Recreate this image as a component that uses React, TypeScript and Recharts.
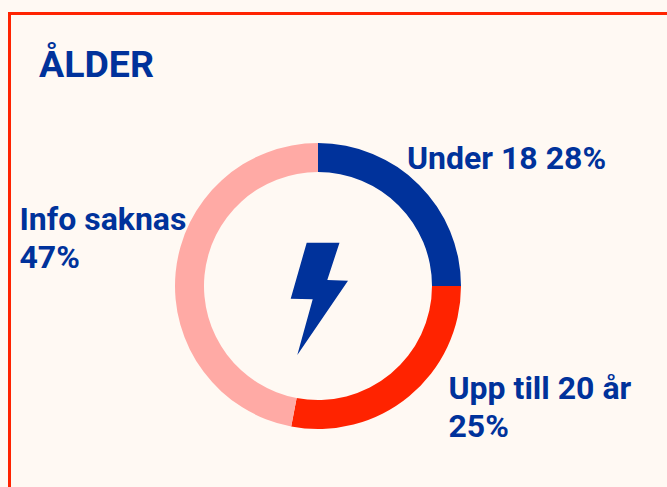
import { Pie, PieChart, Cell } from 'recharts';

const categories = ['Under 18', 'Upp till 20 år', 'Info saknas'];
// arc sizes as drawn in the picture
const values = [25, 28, 47];
const colors = ['#00329b', '#ff2300', '#ffaaa5'];
const title = 'ÅLDER';
const labels = [
  { lines: ['Under 18 28%'], x: 407, y: 169 },
  { lines: ['Upp till 20 år', '25%'], x: 448.5, y: 399 },
  { lines: ['Info saknas', '47%'], x: 19.5, y: 230 },
];

const BLUE = '#00329b';
const BOLT = '306.7,242.7 339.5,242.7 327.3,280 348,280.7 297.3,355 312.7,299.3 290.7,298.7';

const data = categories.map((name, i) => ({ name, value: values[i] }));

export default function App() {
  return (
    <div style={{ position: 'fixed', left: 0, top: 0, width: 667, height: 487, background: '#fff9f3', fontFamily: 'Roboto' }}>
      <div
        style={{
          position: 'absolute',
          left: 8,
          top: 12,
          width: 680,
          height: 500,
          border: '3px solid #ff2300',
          boxSizing: 'border-box',
        }}
      />
      <PieChart
        width={667}
        height={487}
        margin={{ top: 0, right: 0, bottom: 0, left: 0 }}
        style={{ position: 'absolute', left: 0, top: 0 }}
      >
        <Pie
          data={data}
          dataKey="value"
          cx={318}
          cy={286}
          outerRadius={143}
          innerRadius={114}
          startAngle={90}
          endAngle={-270}
          stroke="none"
          isAnimationActive={false}
        >
          {data.map((d, i) => (
            <Cell key={d.name} fill={colors[i]} />
          ))}
        </Pie>
        <polygon points={BOLT} fill={BLUE} />
        <text x={39} y={77} fill={BLUE} fontFamily="Roboto" fontWeight={700} fontSize={37.5}>
          {title}
        </text>
        {labels.map((l) => (
          <text key={l.lines[0]} x={l.x} y={l.y} fill={BLUE} fontFamily="Roboto" fontWeight={700} fontSize={32}>
            {l.lines.map((line, i) => (
              <tspan key={line} x={l.x} dy={i === 0 ? 0 : 38}>
                {line}
              </tspan>
            ))}
          </text>
        ))}
      </PieChart>
    </div>
  );
}
